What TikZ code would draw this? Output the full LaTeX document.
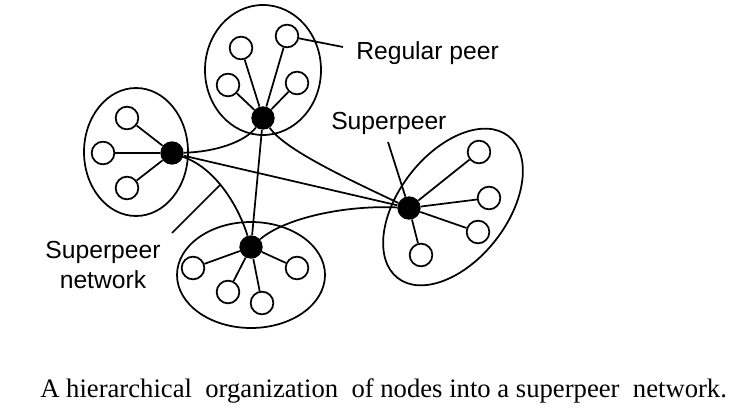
\documentclass[tikz,border=0pt]{standalone}
\usepackage{fontspec}
\setmainfont{Liberation Serif}
\newfontfamily\labelfont{Liberation Sans}
\usepackage{tikz}

\tikzset{
  peer/.style={circle,draw,line width=1.3pt,minimum size=17pt,inner sep=0pt},
  super/.style={circle,fill=black,minimum size=17.5pt,inner sep=0pt},
  cluster/.style={line width=1.3pt},
  link/.style={line width=1.3pt},
  lbl/.style={font=\labelfont\fontsize{18.5}{22.5}\selectfont,inner sep=0.75pt},
}

\begin{document}
\begin{tikzpicture}[x=0.75pt,y=0.75pt,yscale=-1,xscale=1]
\useasboundingbox (0,0) rectangle (730,413);

%Shape: Ellipse [top cluster]
\draw [cluster] (263,70) ellipse (58 and 65);
%Shape: Ellipse [left cluster]
\draw [cluster] (136,152) ellipse (52 and 64);
%Shape: Ellipse [bottom cluster]
\draw [cluster] (251,275) ellipse (74 and 53);
%Shape: Ellipse [right cluster]
\draw [cluster, rotate around={-52:(453,207)}] (453,207) ellipse (90 and 54);

% Superpeers
\node [super] (T) at (263,118) {};
\node [super] (L) at (172,153) {};
\node [super] (B) at (251,247) {};
\node [super] (R) at (409,208) {};

% Regular peers
\node [peer] (t1) at (241,48) {};
\node [peer] (t2) at (287,36) {};
\node [peer] (t3) at (228,85) {};
\node [peer] (t4) at (297,83) {};
\node [peer] (l1) at (127,118) {};
\node [peer] (l2) at (103,153) {};
\node [peer] (l3) at (127,188) {};
\node [peer] (b1) at (193,268) {};
\node [peer] (b2) at (228,292) {};
\node [peer] (b3) at (262,303) {};
\node [peer] (b4) at (297,268) {};
\node [peer] (r1) at (479,152) {};
\node [peer] (r2) at (489,198) {};
\node [peer] (r3) at (478,232) {};
\node [peer] (r4) at (421,255) {};

%Straight Lines [peers to superpeers]
\foreach \p in {t1,t2,t3,t4} \draw [link] (T) -- (\p);
\foreach \p in {l1,l2,l3} \draw [link] (L) -- (\p);
\foreach \p in {b1,b2,b3,b4} \draw [link] (B) -- (\p);
\foreach \p in {r1,r2,r3,r4} \draw [link] (R) -- (\p);

%Straight Lines [superpeer network]
\draw [link] (T) -- (B);
\draw [link] (L) -- (R);
%Curve Lines [superpeer network]
\draw [link] (L) .. controls (215,152) and (245,142) .. (T);
\draw [link] (L) .. controls (215,168) and (238,205) .. (B);
\draw [link] (T) .. controls (285,150) and (350,180) .. (R);
\draw [link] (B) .. controls (285,218) and (345,205) .. (R);

%Straight Lines [label leaders]
\coordinate (rpEnd) at (343,47);
\draw [link] (t2) -- (rpEnd);
\coordinate (spEnd) at (388,142);
\draw [link] (spEnd) -- (R);
\coordinate (snA) at (172,233);
\coordinate (snB) at (220,185);
\draw [link] (snA) -- (snB);

% Text Node
\node [lbl, anchor=base west] (rpLbl) at (355,60) {Regular peer};
% Text Node
\node [lbl, anchor=base west] (spLbl) at (330,130) {Superpeer};
% Text Node
\node [lbl, align=center] (snLbl) at (103,265) {Superpeer\\network};
% Text Node
\node [font=\fontsize{20}{24}\selectfont, anchor=base west, inner sep=0pt] (cap) at (40,397) {A hierarchical\ \ organization\ \ of nodes into a superpeer\ \ network.};

\end{tikzpicture}
\end{document}
